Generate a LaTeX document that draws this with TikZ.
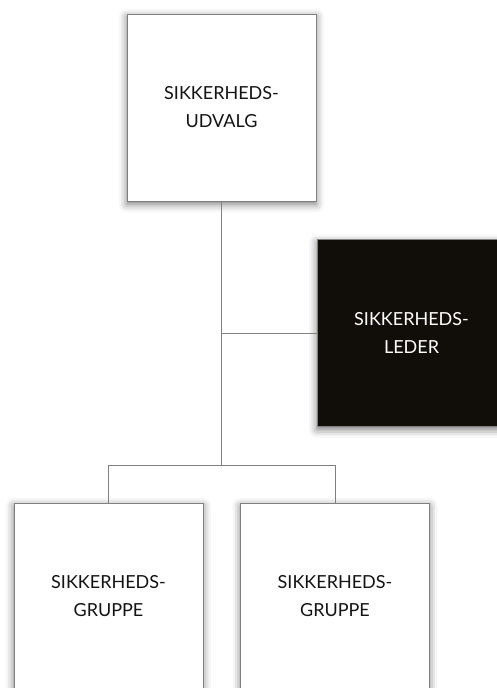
\documentclass[tikz,border=0pt]{standalone}
\usepackage{fontspec}
\setmainfont{Lato}
\usetikzlibrary{shadows.blur}
\definecolor{boxline}{RGB}{128,128,128}
\definecolor{darkbox}{RGB}{17,14,10}
\definecolor{txt}{RGB}{20,20,20}
\tikzset{
  orgbox/.style={draw=boxline, line width=1pt, fill=white, minimum width=189pt, minimum height=187pt,
    inner sep=0pt, align=center, font=\fontsize{18}{28}\selectfont, text=txt,
    blur shadow={shadow xshift=0pt, shadow yshift=-3pt, shadow blur radius=8pt, shadow opacity=55}},
  darkorgbox/.style={orgbox, fill=darkbox, text=white},
  link/.style={draw=boxline, line width=1pt}
}
\begin{document}
\begin{tikzpicture}[x=1pt,y=-1pt]
\useasboundingbox (0,0) rectangle (497,688);
\clip (0,0) rectangle (497,688);
\node[orgbox] (udvalg) at (221.5,107.5) {SIKKERHEDS-\\UDVALG};
\node[darkorgbox] (leder) at (411.5,333) {SIKKERHEDS-\\LEDER};
\node[orgbox] (gruppeA) at (108.5,596.5) {SIKKERHEDS-\\GRUPPE};
\node[orgbox] (gruppeB) at (335,596.5) {SIKKERHEDS-\\GRUPPE};
\coordinate (split) at (udvalg.south |- 0,465);
\coordinate (tee) at (udvalg.south |- leder.west);
\coordinate (leftend) at (gruppeA.north |- split);
\coordinate (rightend) at (gruppeB.north |- split);
\draw[link] (udvalg.south) -- (split);
\draw[link] (tee) -- (leder.west);
\draw[link] (gruppeA.north) -- (leftend) -- (rightend) -- (gruppeB.north);
\end{tikzpicture}
\end{document}
